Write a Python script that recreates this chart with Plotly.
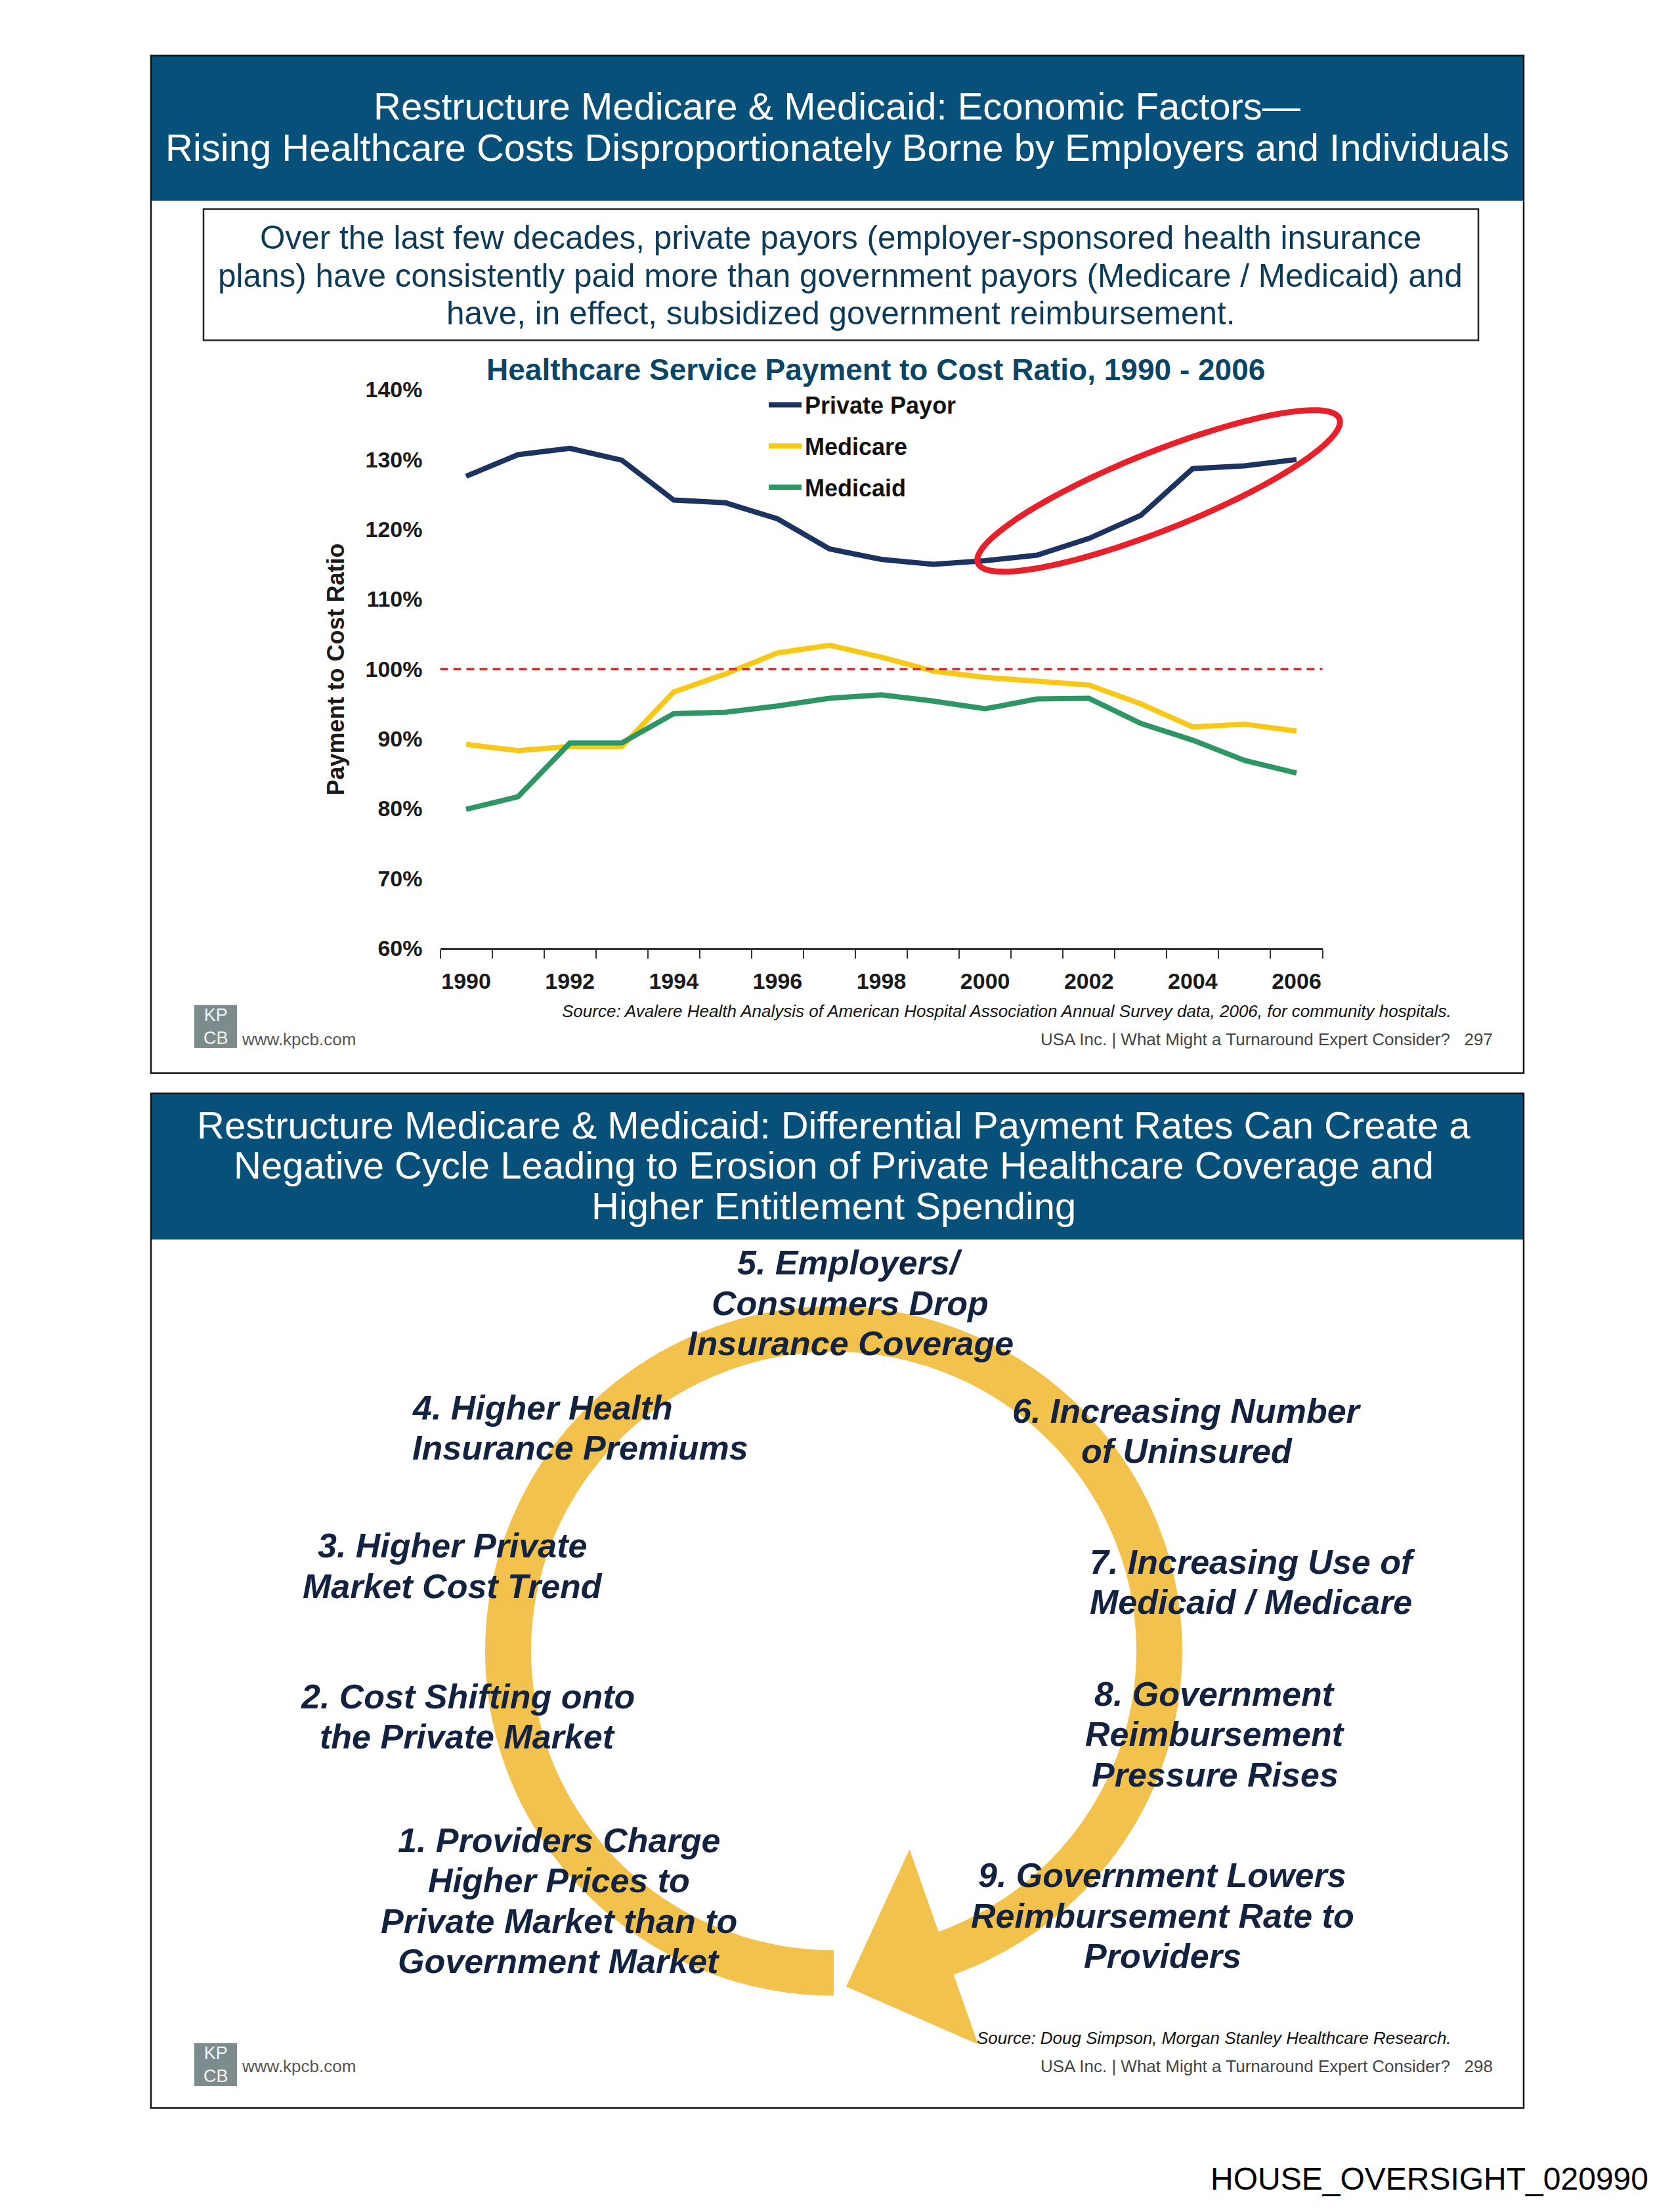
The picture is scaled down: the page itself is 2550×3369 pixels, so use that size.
import math
import plotly.graph_objects as go

W, H = 2550, 3369
FONT = "Liberation Sans"
OFF = 0

# ---------------- data ----------------
years = list(range(1990, 2007))
private_payor = [127.6, 130.7, 131.6, 129.9, 124.2, 123.8, 121.5, 117.2, 115.7, 115.0,
                 115.5, 116.3, 118.7, 122.0, 128.7, 129.1, 130.0]
medicare = [89.2, 88.3, 88.9, 88.9, 96.7, 99.3, 102.3, 103.4, 101.7, 99.7,
            98.8, 98.2, 97.7, 95.0, 91.7, 92.1, 91.1]
medicaid = [79.9, 81.7, 89.4, 89.4, 93.6, 93.8, 94.7, 95.8, 96.3, 95.4,
            94.3, 95.7, 95.8, 92.2, 89.8, 86.9, 85.1]
series_names = ["Private Payor", "Medicare", "Medicaid"]
series_colors = ["#1C3260", "#F7C815", "#2E9565"]
year_ticks = [1990, 1992, 1994, 1996, 1998, 2000, 2002, 2004, 2006]
pct_ticks = [60, 70, 80, 90, 100, 110, 120, 130, 140]
pct_labels = ["60%", "70%", "80%", "90%", "100%", "110%", "120%", "130%", "140%"]
breakeven = 100

title1 = ["Restructure Medicare & Medicaid: Economic Factors\u2014",
          "Rising Healthcare Costs Disproportionately Borne by Employers and Individuals"]
box_text = ["Over the last few decades, private payors (employer-sponsored health insurance",
            "plans) have consistently paid more than government payors (Medicare / Medicaid) and",
            "have, in effect, subsidized government reimbursement."]
chart_title = "Healthcare Service Payment to Cost Ratio, 1990 - 2006"
y_title = "Payment to Cost Ratio"
source1 = "Source: Avalere Health Analysis of American Hospital Association Annual Survey data, 2006, for community hospitals."
footer1 = "USA Inc. | What Might a Turnaround Expert Consider?   297"
title2 = ["Restructure Medicare & Medicaid: Differential Payment Rates Can Create a",
          "Negative Cycle Leading to Erosion of Private Healthcare Coverage and",
          "Higher Entitlement Spending"]
source2 = "Source: Doug Simpson, Morgan Stanley Healthcare Research."
footer2 = "USA Inc. | What Might a Turnaround Expert Consider?   298"
doc_id = "HOUSE_OVERSIGHT_020990"

cycle_steps = [
    ["1. Providers Charge", "Higher Prices to", "Private Market than to", "Government Market"],
    ["2. Cost Shifting onto", "the Private Market"],
    ["3. Higher Private", "Market Cost Trend"],
    ["4. Higher Health", "Insurance Premiums"],
    ["5. Employers/", "Consumers Drop", "Insurance Coverage"],
    ["6. Increasing Number", "of Uninsured"],
    ["7. Increasing Use of", "Medicaid / Medicare"],
    ["8. Government", "Reimbursement", "Pressure Rises"],
    ["9. Government Lowers", "Reimbursement Rate to", "Providers"],
]
# layout of the cycle labels (pixel anchor x, center y, anchor)
cycle_pos = [
    (851, 2909, "center"),
    (712, 2625, "center"),
    (689, 2393, "center"),
    (626, 2180, "left"),
    (1295, 1988, "center"),
    (1808, 2185, "center"),
    (1658, 2418, "left"),
    (1851, 2652, "center"),
    (1771, 2932, "center"),
]


def PX(px):
    return (px - OFF) / W


def PY(py):
    return 1 - (py - OFF) / H


def path(points, close=True):
    s = "M " + " L ".join(f"{PX(x):.6f},{PY(y):.6f}" for x, y in points)
    return s + (" Z" if close else "")


fig = go.Figure()
for name, vals, col in zip(series_names, [private_payor, medicare, medicaid], series_colors):
    fig.add_trace(go.Scatter(x=years, y=vals, mode="lines", name=name, legendgroup=name,
                             line=dict(color=col, width=8)))

shapes = []
ann = []

# ---------- top panel ----------
top, bot, left, right = 66.6, 1634, 230, 2321
shapes.append(dict(type="rect", xref="paper", yref="paper", x0=PX(left), x1=PX(right),
                   y0=PY(top), y1=PY(290), fillcolor="#07507A", line=dict(width=0), layer="below"))
shapes.append(dict(type="rect", xref="paper", yref="paper", x0=PX(left), x1=PX(right),
                   y0=PY(top), y1=PY(bot), line=dict(color="#111", width=2.5)))
for txt, yy in zip(title1, [144, 208]):
    ann.append(dict(text=txt, x=PX(1275), y=PY(yy), xref="paper", yref="paper", showarrow=False,
                    xanchor="center", yanchor="middle", font=dict(family=FONT, size=58, color="white")))
shapes.append(dict(type="rect", xref="paper", yref="paper", x0=PX(310), x1=PX(2252),
                   y0=PY(303), y1=PY(505), line=dict(color="#222", width=2.5)))
for txt, yy in zip(box_text, [346, 405, 463]):
    ann.append(dict(text=txt, x=PX(1280), y=PY(yy), xref="paper", yref="paper", showarrow=False,
                    xanchor="center", yanchor="middle", font=dict(family=FONT, size=49.5, color="#0D3A56")))
ann.append(dict(text="<b>" + chart_title + "</b>", x=PX(1334), y=PY(550), xref="paper", yref="paper",
                showarrow=False, xanchor="center", yanchor="middle",
                font=dict(family=FONT, size=46, color="#0B4566")))
ann.append(dict(text="<b>" + y_title + "</b>", x=PX(512), y=PY(1012), xref="paper", yref="paper",
                showarrow=False, textangle=-90, xanchor="center", yanchor="middle",
                font=dict(family=FONT, size=36, color="#1a1a1a")))
# 100% reference line
shapes.append(dict(type="line", xref="x domain", yref="y", x0=0, x1=1, y0=breakeven, y1=breakeven,
                   line=dict(color="#D2262C", width=3.5, dash="12px,8px")))
# red ellipse highlight
cx, cy, a, b, th = 1765, 737, 297, 60, math.radians(22)
pts = []
for i in range(0, 361, 3):
    t = math.radians(i)
    u, v = a * math.cos(t), b * math.sin(t)
    pts.append((cx + u * math.cos(th) + v * math.sin(th), cy - u * math.sin(th) + v * math.cos(th)))
shapes.append(dict(type="path", xref="paper", yref="paper", path=path(pts),
                   line=dict(color="#E8202A", width=9)))


def footer(off, source, foot):
    shapes.append(dict(type="rect", xref="paper", yref="paper", x0=PX(296), x1=PX(361),
                       y0=PY(1529 + off), y1=PY(1595 + off), fillcolor="#7C8B8B", line=dict(width=0)))
    ann.append(dict(text="KP<br>CB", x=PX(328.5), y=PY(1562 + off), xref="paper", yref="paper",
                    showarrow=False, xanchor="center", yanchor="middle", align="center",
                    font=dict(family=FONT, size=27, color="#F2F4F4")))
    ann.append(dict(text="www.kpcb.com", x=PX(366), y=PY(1582 + off), xref="paper", yref="paper",
                    showarrow=False, xanchor="left", font=dict(family=FONT, size=26, color="#555")))
    ann.append(dict(text="<i>" + source + "</i>", x=PX(2213), y=PY(1538 + off), xref="paper", yref="paper",
                    showarrow=False, xanchor="right", font=dict(family=FONT, size=26, color="#111")))
    ann.append(dict(text=foot, x=PX(2276), y=PY(1582 + off), xref="paper", yref="paper",
                    showarrow=False, xanchor="right", font=dict(family=FONT, size=26, color="#444")))


footer(0, source1, footer1)

# ---------- bottom panel ----------
top2, bot2 = 1665, 3228
shapes.append(dict(type="rect", xref="paper", yref="paper", x0=PX(left), x1=PX(right),
                   y0=PY(top2), y1=PY(1890), fillcolor="#07507A", line=dict(width=0), layer="below"))
shapes.append(dict(type="rect", xref="paper", yref="paper", x0=PX(left), x1=PX(right),
                   y0=PY(top2), y1=PY(bot2), line=dict(color="#111", width=2.5)))
for txt, yy in zip(title2, [1714, 1776, 1838]):
    ann.append(dict(text=txt, x=PX(1270), y=PY(yy), xref="paper", yref="paper", showarrow=False,
                    xanchor="center", yanchor="middle", font=dict(family=FONT, size=58, color="white")))

# circular arrow
rcx, rcy, r_out, r_in = 1270, 2524, 531, 461
outer = [(rcx + r_out * math.cos(math.radians(d)), rcy + r_out * math.sin(math.radians(d)))
         for d in range(90, 433, 2)]
inner = [(rcx + r_in * math.cos(math.radians(d)), rcy + r_in * math.sin(math.radians(d)))
         for d in range(432, 89, -2)]
shapes.append(dict(type="path", xref="paper", yref="paper", path=path(outer + inner),
                   fillcolor="#F3C24C", line=dict(width=0), layer="below"))
shapes.append(dict(type="path", xref="paper", yref="paper",
                   path=path([(1385.5, 2829.5), (1289, 3041), (1490, 3130)]),
                   fillcolor="#F3C24C", line=dict(width=0), layer="below"))

LH = 62.2
for lines, (px_, cy_, anchor) in zip(cycle_steps, cycle_pos):
    n = len(lines)
    for k, line in enumerate(lines):
        yy = cy_ + (k - (n - 1) / 2) * LH
        ann.append(dict(text="<b><i>" + line + "</i></b>", x=PX(px_), y=PY(yy), xref="paper", yref="paper",
                        showarrow=False, xanchor=anchor, yanchor="middle",
                        font=dict(family=FONT, size=52, color="#13233F")))

footer(1599, source2, footer2)

ann.append(dict(text=doc_id, x=PX(2513), y=PY(3337), xref="paper", yref="paper", showarrow=False,
                xanchor="right", yanchor="middle", font=dict(family=FONT, size=48, color="#000")))

fig.update_layout(
    width=W, height=H, margin=dict(l=0, r=0, t=0, b=0),
    paper_bgcolor="white", plot_bgcolor="white",
    shapes=shapes, annotations=ann,
    showlegend=True,
    legend=dict(x=PX(1166), y=PY(574), xanchor="left", yanchor="top", traceorder="grouped",
                tracegroupgap=13, itemwidth=50, bgcolor="rgba(0,0,0,0)",
                font=dict(family=FONT, size=36, color="#111", weight="bold")),
    xaxis=dict(domain=[PX(670.5), PX(2014.5)], range=[1989.5, 2006.5], tickvals=year_ticks,
               ticks="", showgrid=False, zeroline=False, showline=True, linecolor="#333", linewidth=2.5,
               ticklabelstandoff=18,
               tickfont=dict(family=FONT, size=34, color="#1a1a1a", weight="bold"),
               minor=dict(ticks="outside", tick0=1989.5, dtick=1, ticklen=13, tickwidth=2,
                          tickcolor="#333", showgrid=False)),
    yaxis=dict(domain=[PY(1441.5), PY(581.1)], range=[60, 140], tickvals=pct_ticks, ticktext=pct_labels,
               ticks="", showgrid=False, zeroline=False, showline=False, ticklabelstandoff=26,
               tickfont=dict(family=FONT, size=34, color="#1a1a1a", weight="bold")),
)

fig.write_html("out.html", config={"displayModeBar": False},
               post_script="document.body.style.margin='0px';")
